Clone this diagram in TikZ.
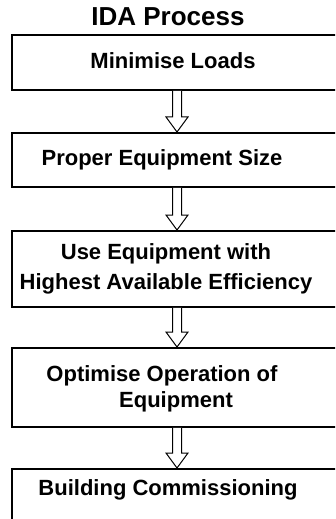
\documentclass[tikz,border=0pt]{standalone}
\usepackage{fontspec}
\setmainfont{Liberation Sans}
\usetikzlibrary{calc}
\tikzset{
  stepbox/.style={draw=black, line width=1.8bp, minimum width=340bp, anchor=north west, inner sep=0pt},
  boxtext/.style={font=\fontsize{22bp}{30bp}\selectfont\bfseries, inner sep=0pt, align=center},
  titletext/.style={font=\fontsize{26bp}{30bp}\selectfont\bfseries, inner sep=0pt},
  blockarrow/.style={draw=black, line width=1bp, fill=white, line join=miter}
}
\newcommand{\hollowarrow}[2]{%
  \draw[blockarrow] ($(#1)+(-4.5bp,0)$) -- ($(#2)+(-4.5bp,15bp)$) -- ($(#2)+(-11bp,15bp)$) -- (#2) -- ($(#2)+(11bp,15bp)$) -- ($(#2)+(4.5bp,15bp)$) -- ($(#1)+(4.5bp,0)$);%
}
\begin{document}
\begin{tikzpicture}[x=1bp,y=1bp]
\useasboundingbox (0,0) rectangle (335,-519);
\clip (0,0) rectangle (335,-519);
\fill[white] (0,0) rectangle (335,-519);

\node[titletext] (title) at (168,-17) {IDA Process};

\node[stepbox, minimum height=55bp] (b1) at (11,-34) {};
\node[stepbox, minimum height=54bp] (b2) at (11,-132) {};
\node[stepbox, minimum height=76bp] (b3) at (11,-230) {};
\node[stepbox, minimum height=79bp] (b4) at (11,-347) {};
\node[stepbox, minimum height=80bp] (b5) at (11,-468) {};

\node[boxtext] (t1) at (173,-61) {Minimise Loads};
\node[boxtext] (t2) at (162,-160) {Proper Equipment Size};
\node[boxtext] (t3a) at (166,-254) {Use Equipment with};
\node[boxtext] (t3b) at (166,-284) {Highest Available Efficiency};
\node[boxtext] (t4a) at (162,-376) {Optimise Operation of};
\node[boxtext] (t4b) at (176,-402) {Equipment};
\node[boxtext] (t5) at (168,-490) {Building Commissioning};

\coordinate (a1s) at ($(b1.south west)+(166,0)$);
\coordinate (a1e) at ($(b2.north west)+(166,0)$);
\coordinate (a2s) at ($(b2.south west)+(166,0)$);
\coordinate (a2e) at ($(b3.north west)+(166,0)$);
\coordinate (a3s) at ($(b3.south west)+(166,0)$);
\coordinate (a3e) at ($(b4.north west)+(166,0)$);
\coordinate (a4s) at ($(b4.south west)+(166,0)$);
\coordinate (a4e) at ($(b5.north west)+(166,0)$);

\hollowarrow{a1s}{a1e}
\hollowarrow{a2s}{a2e}
\hollowarrow{a3s}{a3e}
\hollowarrow{a4s}{a4e}
\end{tikzpicture}
\end{document}
